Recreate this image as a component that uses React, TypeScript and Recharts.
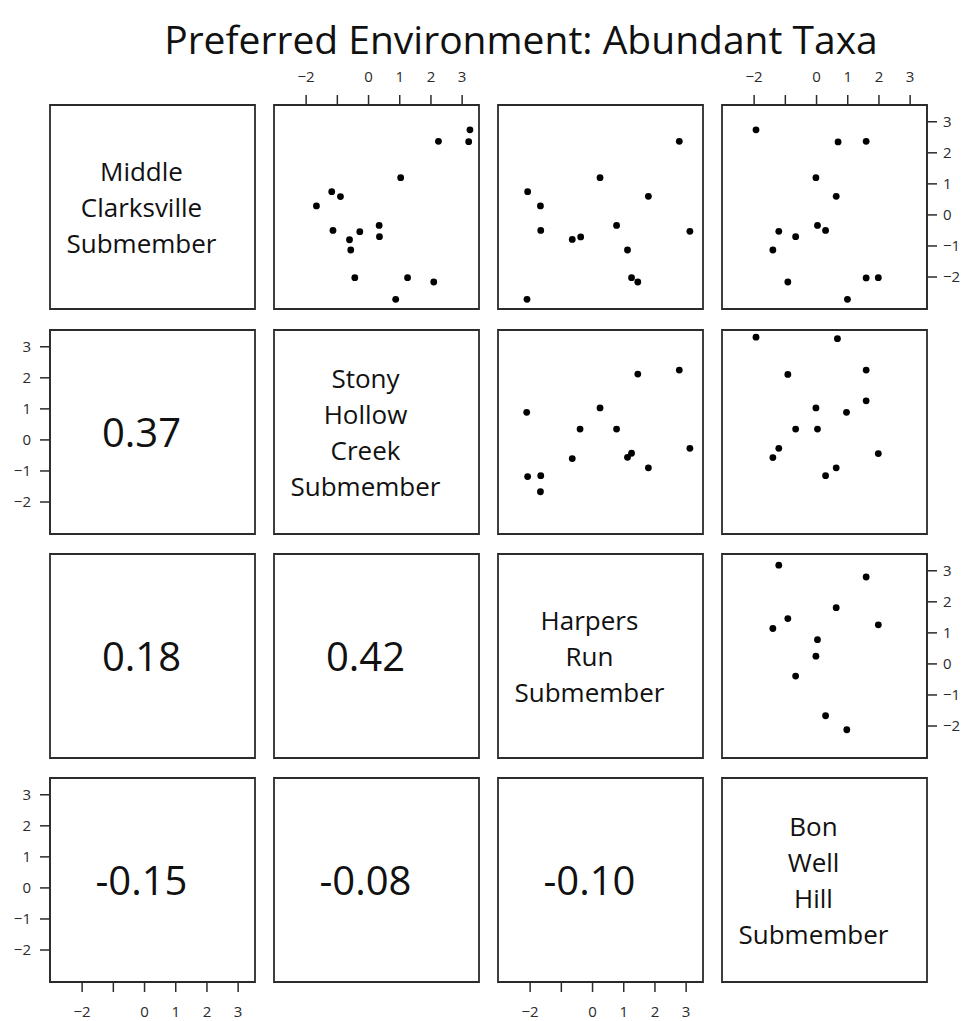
import { ReferenceArea, Scatter, ScatterChart, XAxis, YAxis } from "recharts";

// Labels drawn on the diagonal, one entry per variable
const variableLabels = [
  ["Middle", "Clarksville", "Submember"],
  ["Stony", "Hollow", "Creek", "Submember"],
  ["Harpers", "Run", "Submember"],
  ["Bon", "Well", "Hill", "Submember"],
];

// Lower triangle, read row by row: (2,1) (3,1) (3,2) (4,1) (4,2) (4,3)
const correlations = [0.37, 0.18, 0.42, -0.15, -0.08, -0.1];

const axisTicks = [-2, -1, 0, 1, 2, 3];
const axisDomain: [number, number] = [-3.03, 3.54];

// Upper triangle scatter data: [x = column variable, y = row variable]
const clarksvilleVsStony = [
  [3.25, 2.74], [3.21, 2.36], [2.24, 2.37], [1.03, 1.2], [-1.18, 0.75], [-0.9, 0.59],
  [-1.67, 0.29], [0.34, -0.34], [-1.14, -0.5], [-0.28, -0.54], [0.35, -0.7], [-0.61, -0.8],
  [-0.57, -1.13], [-0.44, -2.02], [1.25, -2.02], [2.09, -2.16], [0.87, -2.72],
];
const clarksvilleVsHarpers = [
  [2.78, 2.37], [0.24, 1.2], [-2.08, 0.75], [1.79, 0.6], [-1.67, 0.29], [0.77, -0.34],
  [-1.66, -0.5], [3.12, -0.53], [-0.38, -0.71], [-0.65, -0.79], [1.12, -1.13], [1.25, -2.02],
  [1.45, -2.16], [-2.1, -2.72],
];
const clarksvilleVsBonWell = [
  [-1.94, 2.74], [0.69, 2.35], [1.59, 2.37], [-0.02, 1.2], [0.63, 0.6], [0.03, -0.34],
  [0.29, -0.5], [-1.21, -0.53], [-0.67, -0.7], [-1.4, -1.13], [1.59, -2.03], [1.98, -2.02],
  [-0.92, -2.16], [0.99, -2.72],
];
const stonyVsHarpers = [
  [2.78, 2.25], [1.45, 2.12], [-2.11, 0.89], [0.24, 1.03], [-0.4, 0.35], [0.77, 0.35],
  [3.12, -0.27], [-0.65, -0.6], [1.25, -0.43], [1.12, -0.56], [1.79, -0.9], [-2.08, -1.18],
  [-1.66, -1.15], [-1.67, -1.67],
];
const stonyVsBonWell = [
  [-1.94, 3.31], [0.67, 3.26], [1.59, 2.25], [-0.92, 2.11], [1.59, 1.26], [-0.02, 1.03],
  [0.96, 0.89], [-0.67, 0.35], [0.03, 0.35], [-1.21, -0.27], [-1.4, -0.57], [1.98, -0.44],
  [0.63, -0.9], [0.29, -1.15],
];
const harpersVsBonWell = [
  [-1.21, 3.18], [1.59, 2.8], [0.63, 1.81], [-0.92, 1.46], [-1.4, 1.14], [1.98, 1.26],
  [0.03, 0.78], [-0.02, 0.25], [-0.67, -0.39], [0.29, -1.67], [0.97, -2.12],
];

const upperPanels: Record<string, number[][]> = {
  "0-1": clarksvilleVsStony,
  "0-2": clarksvilleVsHarpers,
  "0-3": clarksvilleVsBonWell,
  "1-2": stonyVsHarpers,
  "1-3": stonyVsBonWell,
  "2-3": harpersVsBonWell,
};

// layout
const COL_X = [50, 274, 498, 722];
const ROW_Y = [105, 330, 554, 778];
const PANEL_W = 205;
const PANEL_H = 204;
const PAD = 50;
const AXIS = 45;
const INK = "#2b2b2b";
const FONT = "'Open Sans', sans-serif";

const fmtTick = (v: number) => (v < 0 ? `\u2212${Math.abs(v)}` : String(v));

const Dot = (props: any) => <circle cx={props.cx} cy={props.cy} r={3.4} fill="#000" />;

// R-style tick label; x axes leave the -1 label out
function TickLabel(props: any & { skipMinusOne?: boolean }) {
  const { x, y, payload, textAnchor, verticalAnchor, skipMinusOne } = props;
  const v = payload.value as number;
  if (skipMinusOne && v === -1) return <g />;
  const dy = verticalAnchor === "start" ? "0.72em" : verticalAnchor === "middle" ? "0.36em" : "0";
  return (
    <text x={x} y={y} dy={dy} textAnchor={textAnchor} fontSize={15} fontFamily={FONT} fill={INK}>
      {fmtTick(v)}
    </text>
  );
}

function Panel({ row, col }: { row: number; col: number }) {
  const raw = upperPanels[`${row}-${col}`] ?? [];
  const data = raw.map(([x, y]) => ({ x, y }));

  const xSide = row === 0 && col % 2 === 1 ? "top" : row === 3 && col % 2 === 0 ? "bottom" : null;
  const ySide = col === 0 && row % 2 === 1 ? "left" : col === 3 && row % 2 === 0 ? "right" : null;

  const margin = {
    top: xSide === "top" ? PAD - AXIS : PAD,
    bottom: xSide === "bottom" ? PAD - AXIS : PAD,
    left: ySide === "left" ? PAD - AXIS : PAD,
    right: ySide === "right" ? PAD - AXIS : PAD,
  };

  return (
    <div style={{ position: "absolute", left: COL_X[col] - PAD, top: ROW_Y[row] - PAD }}>
      <ScatterChart width={PANEL_W + 2 * PAD} height={PANEL_H + 2 * PAD} margin={margin}>
        <XAxis
          type="number"
          dataKey="x"
          domain={axisDomain}
          ticks={axisTicks}
          allowDataOverflow
          interval={0}
          hide={!xSide}
          orientation={xSide === "top" ? "top" : "bottom"}
          height={AXIS}
          tickSize={10}
          tickMargin={xSide === "top" ? 13 : 14}
          stroke={INK}
          strokeWidth={1.5}
          tick={(p: any) => <TickLabel {...p} skipMinusOne />}
        />
        <YAxis
          type="number"
          dataKey="y"
          domain={axisDomain}
          ticks={axisTicks}
          allowDataOverflow
          interval={0}
          hide={!ySide}
          orientation={ySide === "right" ? "right" : "left"}
          width={AXIS}
          tickSize={10}
          tickMargin={ySide === "right" ? 6 : 9}
          stroke={INK}
          strokeWidth={1.5}
          tick={(p: any) => <TickLabel {...p} />}
        />
        <ReferenceArea
          x1={axisDomain[0]}
          x2={axisDomain[1]}
          y1={axisDomain[0]}
          y2={axisDomain[1]}
          fill="none"
          stroke={INK}
          strokeWidth={1.8}
          fillOpacity={0}
        />
        <Scatter data={data} isAnimationActive={false} shape={Dot} />
      </ScatterChart>
    </div>
  );
}

function PanelText({ row, col, children, size, lineHeight }: { row: number; col: number; children: any; size: number; lineHeight: number }) {
  return (
    <div
      style={{
        position: "absolute",
        left: COL_X[col] - 11,
        top: ROW_Y[row],
        width: PANEL_W,
        height: PANEL_H,
        display: "flex",
        alignItems: "center",
        justifyContent: "center",
        textAlign: "center",
        fontFamily: FONT,
        fontSize: size,
        lineHeight: `${lineHeight}px`,
        color: "#111",
        pointerEvents: "none",
      }}
    >
      <div>{children}</div>
    </div>
  );
}

export default function App() {
  const lowerCells: { row: number; col: number }[] = [];
  for (let r = 1; r < 4; r++) for (let c = 0; c < r; c++) lowerCells.push({ row: r, col: c });

  return (
    <div style={{ position: "absolute", left: 0, top: 0, width: 967, height: 1021, background: "#fff", overflow: "hidden" }}>
      <div
        style={{
          position: "absolute",
          left: 121,
          top: 12,
          width: 800,
          textAlign: "center",
          fontFamily: FONT,
          fontSize: 39,
          color: "#111",
        }}
      >
        Preferred Environment: Abundant Taxa
      </div>
      {[0, 1, 2, 3].map((r) => [0, 1, 2, 3].map((c) => <Panel key={`${r}-${c}`} row={r} col={c} />))}
      {variableLabels.map((lines, i) => (
        <PanelText key={`d${i}`} row={i} col={i} size={26} lineHeight={36}>
          {lines.map((l) => (
            <div key={l}>{l}</div>
          ))}
        </PanelText>
      ))}
      {lowerCells.map((cell, i) => (
        <PanelText key={`c${i}`} row={cell.row} col={cell.col} size={40} lineHeight={48}>
          {correlations[i].toFixed(2)}
        </PanelText>
      ))}
    </div>
  );
}
